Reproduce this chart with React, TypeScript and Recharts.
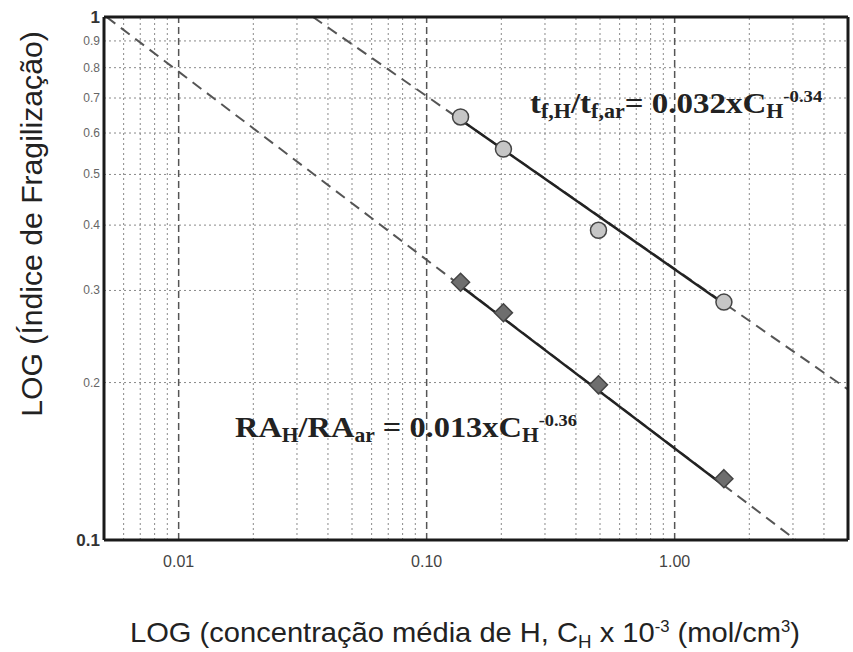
import { LineChart, Line, XAxis, YAxis, ReferenceLine } from 'recharts';

// concentration (x) and embrittlement index (y) for both test series
const concentration = [0.137, 0.204, 0.493, 1.58];
const timeRatio = [0.644, 0.559, 0.391, 0.285];
const areaRatio = [0.311, 0.272, 0.198, 0.131];

// power-law fits: dashed over the whole range, solid between the measured points
const timeFitX = [0.0348, 5];
const timeFitY = [1, 0.194];
const timeSolidX = [0.137, 1.58];
const timeSolidY = [0.636, 0.283];
const areaFitX = [0.00512, 3.08];
const areaFitY = [1, 0.1];
const areaSolidX = [0.137, 1.58];
const areaSolidY = [0.306, 0.127];

const xTicks = [0.01, 0.1, 1];
const xTickLabels = ['0.01', '0.10', '1.00'];
const yTicks = [0.1, 0.2, 0.3, 0.4, 0.5, 0.6, 0.7, 0.8, 0.9, 1];
const xMinor = [0.006, 0.007, 0.008, 0.009, 0.02, 0.03, 0.04, 0.05, 0.06, 0.07, 0.08, 0.09,
  0.2, 0.3, 0.4, 0.5, 0.6, 0.7, 0.8, 0.9, 2, 3, 4];
const xMajor = [0.01, 0.1, 1];
const yMinor = [0.2, 0.3, 0.4, 0.5, 0.6, 0.7, 0.8, 0.9];

const zip = (xs: number[], ys: number[]) => xs.map((x, i) => ({ x, y: ys[i] }));

const timeData = zip(concentration, timeRatio);
const areaData = zip(concentration, areaRatio);

const W = 853;
const H = 652;
const sans = 'Liberation Sans, Arial, sans-serif';
const serif = 'Liberation Serif, Times New Roman, serif';

const YTick = ({ x, y, payload }: any) => {
  const v = payload.value;
  const big = v === 1 || v === 0.1;
  return (
    <text x={x} y={y} dy={big ? 6 : 4} textAnchor="end" fontFamily={sans}
      fontSize={big ? 17 : 12} fontWeight={big ? 'bold' : 'normal'} fill={big ? '#333' : '#666'}>
      {v === 1 ? '1' : v.toFixed(1)}
    </text>
  );
};

const XTick = ({ x, y, payload }: any) => {
  const i = xTicks.indexOf(payload.value);
  return (
    <text x={x} y={y} dy={27} textAnchor="middle" fontFamily={sans} fontSize={16} fill="#444">
      {xTickLabels[i]}
    </text>
  );
};

const CircleDot = (p: any) => (
  <circle key={`c${p.index}`} cx={p.cx} cy={p.cy} r={8} fill="#c6c6c6" stroke="#444" strokeWidth={1.5} />
);

const DiamondDot = (p: any) => (
  <path key={`d${p.index}`}
    d={`M${p.cx},${p.cy - 9} L${p.cx + 9},${p.cy} L${p.cx},${p.cy + 9} L${p.cx - 9},${p.cy} Z`}
    fill="#6e6e6e" stroke="#444" strokeWidth={1.5} />
);

export default function App() {
  return (
    <div style={{ position: 'absolute', left: 0, top: 0, width: W, height: H, background: '#fff' }}>
      <LineChart width={W} height={H} margin={{ top: 17, right: 5, bottom: 82, left: 0 }}>
        <XAxis dataKey="x" type="number" scale="log" domain={[0.005, 5]} allowDataOverflow
          ticks={xTicks} tick={<XTick />} axisLine={false} tickLine={false} tickSize={0} tickMargin={0} height={30} />
        <YAxis dataKey="y" type="number" scale="log" domain={[0.1, 1]} allowDataOverflow
          ticks={yTicks} tick={<YTick />} axisLine={false} tickLine={false} tickSize={4} tickMargin={0} width={104} />

        {xMinor.map((v) => (
          <ReferenceLine key={`xm${v}`} x={v} stroke="#8a8a8a" strokeDasharray="2 3" ifOverflow="visible" />
        ))}
        {yMinor.map((v) => (
          <ReferenceLine key={`ym${v}`} y={v} stroke="#8a8a8a" strokeDasharray="2 3" ifOverflow="visible" />
        ))}
        {xMajor.map((v) => (
          <ReferenceLine key={`xM${v}`} x={v} stroke="#555" strokeWidth={1.5} strokeDasharray="7 4" ifOverflow="visible" />
        ))}

        <Line data={zip(timeFitX, timeFitY)} dataKey="y" stroke="#555" strokeWidth={2}
          strokeDasharray="11 7" dot={false} isAnimationActive={false} />
        <Line data={zip(areaFitX, areaFitY)} dataKey="y" stroke="#555" strokeWidth={2}
          strokeDasharray="11 7" dot={false} isAnimationActive={false} />
        <Line data={zip(timeSolidX, timeSolidY)} dataKey="y" stroke="#222" strokeWidth={2.5}
          dot={false} isAnimationActive={false} />
        <Line data={zip(areaSolidX, areaSolidY)} dataKey="y" stroke="#222" strokeWidth={2.5}
          dot={false} isAnimationActive={false} />
        <Line data={timeData} dataKey="y" stroke="none" dot={CircleDot} isAnimationActive={false} />
        <Line data={areaData} dataKey="y" stroke="none" dot={DiamondDot} isAnimationActive={false} />

        {/* plot frame */}
        <ReferenceLine x={0.005} stroke="#1a1a1a" strokeWidth={3} ifOverflow="visible" />
        <ReferenceLine x={5} stroke="#1a1a1a" strokeWidth={3} ifOverflow="visible" />
        <ReferenceLine y={0.1} stroke="#1a1a1a" strokeWidth={3} ifOverflow="visible" />
        <ReferenceLine y={1} stroke="#1a1a1a" strokeWidth={3} ifOverflow="visible" />
      </LineChart>

      <svg width={W} height={H} style={{ position: 'absolute', left: 0, top: 0, pointerEvents: 'none' }}>
        <g transform="translate(530,113) scale(1.1,1)">
          <text x={0} y={0} fontFamily={serif} fontWeight="bold" fontSize={30} fill="#222">
            t<tspan fontSize={20} dy={5}>f,H</tspan>
            <tspan dy={-5}>/t</tspan>
            <tspan fontSize={20} dy={5}>f,ar</tspan>
            <tspan dy={-5}>= 0.032xC</tspan>
            <tspan fontSize={20} dy={5}>H</tspan>
            <tspan fontSize={17} dy={-16}>-0.34</tspan>
          </text>
        </g>
        <g transform="translate(235,437) scale(1.08,1)">
          <text x={0} y={0} fontFamily={serif} fontWeight="bold" fontSize={30} fill="#222">
            RA<tspan fontSize={20} dy={5}>H</tspan>
            <tspan dy={-5}>/RA</tspan>
            <tspan fontSize={20} dy={5}>ar</tspan>
            <tspan dy={-5}> = 0.013xC</tspan>
            <tspan fontSize={20} dy={5}>H</tspan>
            <tspan fontSize={17} dy={-16}>-0.36</tspan>
          </text>
        </g>

        <g transform="translate(42,224) rotate(-90) scale(1.04,1)">
          <text x={0} y={0} textAnchor="middle" fontFamily={sans} fontSize={29} fill="#222">
            LOG (Índice de Fragilização)
          </text>
        </g>
        <g transform="translate(130,642) scale(1.04,1)">
          <text x={0} y={0} fontFamily={sans} fontSize={28} fill="#222">
            LOG (concentração média de H, C<tspan fontSize={18} dy={6}>H</tspan>
            <tspan dy={-6}> x 10</tspan>
            <tspan fontSize={16} dy={-10}>-3</tspan>
            <tspan dy={10}> (mol/cm</tspan>
            <tspan fontSize={16} dy={-10}>3</tspan>
            <tspan dy={10}>)</tspan>
          </text>
        </g>
      </svg>
    </div>
  );
}
